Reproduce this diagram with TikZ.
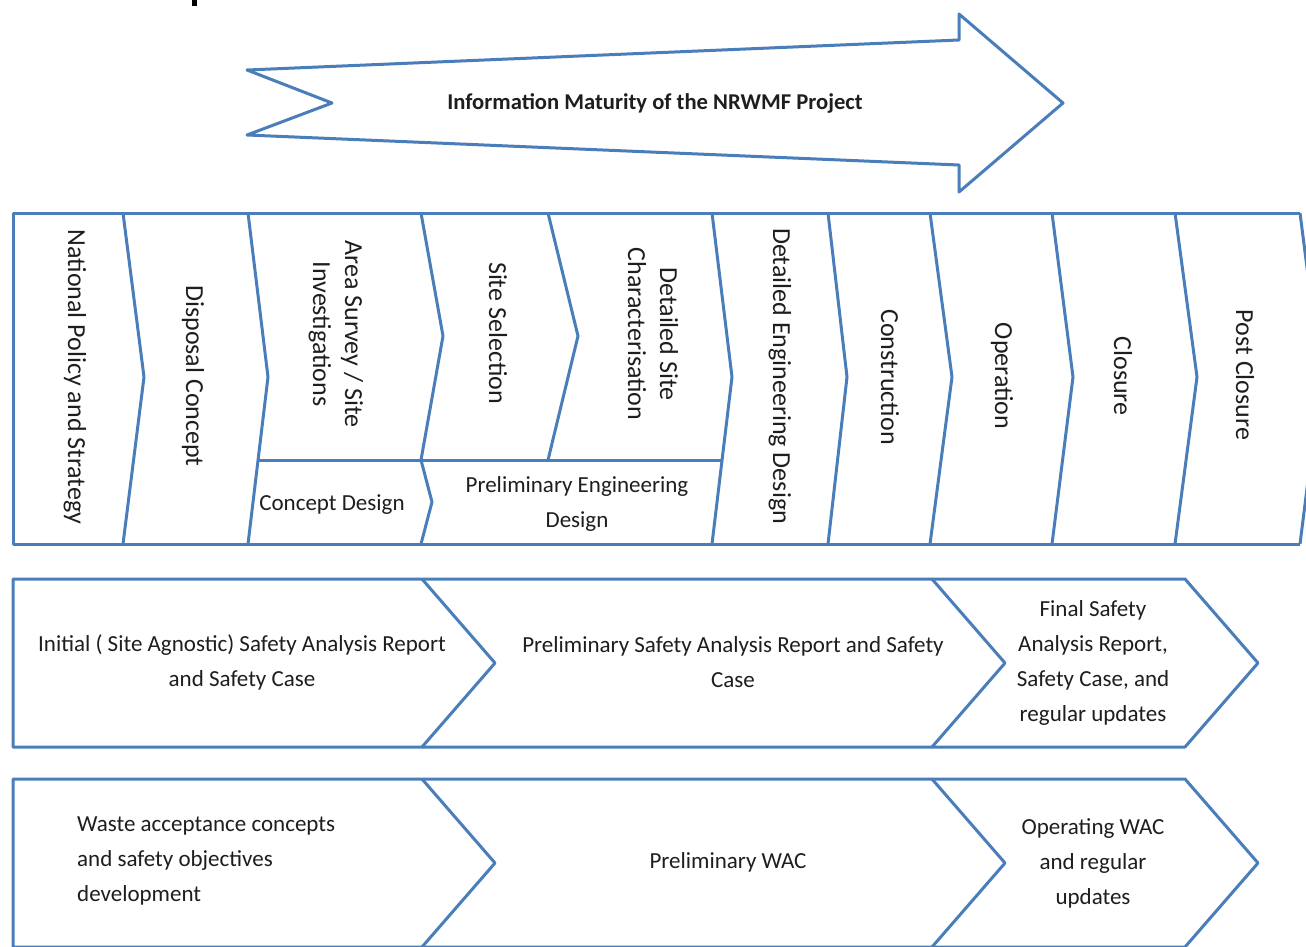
\documentclass[tikz,border=0pt]{standalone}
\usepackage{fontspec}
\setmainfont{Carlito}
\definecolor{obl}{RGB}{74,126,187}
\definecolor{txt}{RGB}{30,30,30}
\tikzset{
 edge/.style={draw=obl, line width=3pt, line join=round},
 rot/.style={rotate=-90, font=\fontsize{26}{32}\selectfont, text=txt, align=center, inner sep=0pt},
 hor/.style={font=\fontsize{23}{35}\selectfont, text=txt, align=center, inner sep=0pt},
}
\begin{document}
\begin{tikzpicture}[x=1pt,y=-1pt]
\useasboundingbox (0,0) rectangle (1306,946);
\clip (0,0) rectangle (1306,946);
\fill[white] (0,0) rectangle (1306,946);
% fragment of cut-off heading
\fill[black] (192,0) rectangle (197,6);
% big arrow
\draw[edge] (247,70) -- (959,40) -- (959,14) -- (1063,103) -- (959,192) -- (959,165) -- (247,135) -- (332,103) -- cycle;
\node[hor, font=\fontsize{22.6}{26}\selectfont\bfseries] (title) at (655,103) {Information Maturity of the NRWMF Project};
% top band
\draw[edge] (1300,213) -- (13,213) -- (13,544) -- (1300,544);
\draw[edge] (1300,213) -- (1321,377) -- (1300,544);
\draw[edge] (123,213) -- (144,377) -- (123,544);
\draw[edge] (248,213) -- (268,377) -- (248,544);
\draw[edge] (258,460) -- (722,460);
\draw[edge] (421,213) -- (443,336) -- (421,460) -- (432,502) -- (421,544);
\draw[edge] (548,213) -- (578,336) -- (548,460);
\draw[edge] (712,213) -- (732,377) -- (712,544);
\draw[edge] (828,213) -- (847,377) -- (828,544);
\draw[edge] (930,213) -- (952,377) -- (930,544);
\draw[edge] (1052,213) -- (1073,377) -- (1052,544);
\draw[edge] (1175,213) -- (1197,377) -- (1175,544);
\node[rot] (nps) at (75,377) {National Policy and Strategy};
\node[rot] (dc) at (193,376) {Disposal Concept};
\node[rot] (as) at (336,334) {Area Survey / Site\\Investigations};
\node[rot] (ss) at (498,333) {Site Selection};
\node[rot] (dsc) at (653,334) {Detailed Site\\Characterisation};
\node[rot] (ded) at (780,376) {Detailed Engineering Design};
\node[rot] (con) at (890,377) {Construction};
\node[rot] (op) at (1002,376) {Operation};
\node[rot] (clo) at (1123,376) {Closure};
\node[rot] (pc) at (1245,375) {Post Closure};
\node[hor] (cd) at (332,505) {Concept Design};
\node[hor] (ped) at (577,504) {Preliminary Engineering\\Design};
% safety row
\draw[edge] (13,579) -- (1185,579) -- (1258,663) -- (1185,747) -- (13,747) -- cycle;
\draw[edge] (422,579) -- (495,663) -- (422,747);
\draw[edge] (932,579) -- (1005,663) -- (932,747);
\node[hor] (isar) at (242,662) {Initial ( Site Agnostic) Safety Analysis Report\\and Safety Case};
\node[hor] (psar) at (733,662) {Preliminary Safety Analysis Report and Safety\\Case};
\node[hor] (fsar) at (1093,663) {Final Safety\\Analysis Report,\\Safety Case, and\\regular updates};
% WAC row
\draw[edge] (13,779) -- (1185,779) -- (1258,863) -- (1185,947) -- (13,947) -- cycle;
\draw[edge] (422,779) -- (495,863) -- (422,947);
\draw[edge] (932,779) -- (1005,863) -- (932,947);
\node[hor, align=left, anchor=west] (wac) at (77,861) {Waste acceptance concepts\\and safety objectives\\development};
\node[hor] (pwac) at (728,862) {Preliminary WAC};
\node[hor] (owac) at (1093,863) {Operating WAC\\and regular\\updates};
\end{tikzpicture}
\end{document}
